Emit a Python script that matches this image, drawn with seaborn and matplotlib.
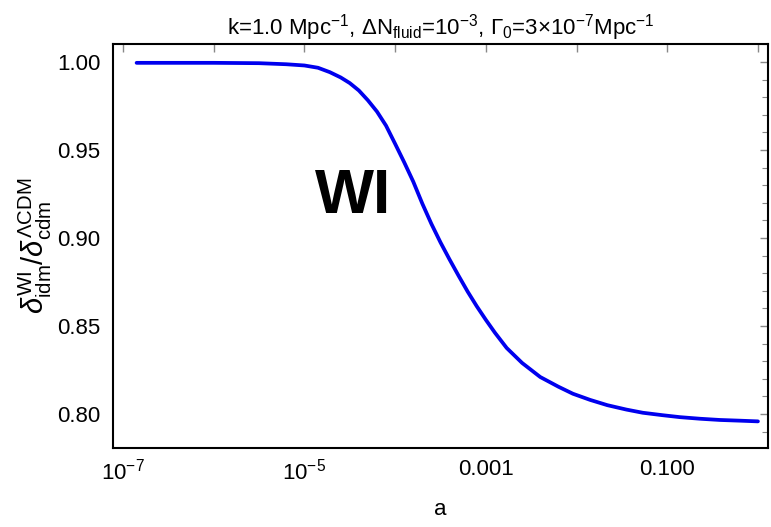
import numpy as np
import pandas as pd
import matplotlib
matplotlib.use("Agg")
import matplotlib.pyplot as plt
import seaborn as sns
from matplotlib.ticker import FixedLocator, NullFormatter

# Data (log10 of scale factor a, and ratio)
log_a = [-6.85, -6.0, -5.5, -5.2, -5.0, -4.85, -4.72, -4.6, -4.5, -4.4,
         -4.3, -4.2, -4.1, -4.0, -3.9, -3.8, -3.7, -3.6, -3.5, -3.4,
         -3.3, -3.2, -3.1, -3.0, -2.9, -2.77, -2.6, -2.4, -2.2, -2.04,
         -1.85, -1.66, -1.45, -1.27, -1.05, -0.86, -0.64, -0.42, -0.2, 0.0]
ratio = [0.9995, 0.9995, 0.9993, 0.9987, 0.9980, 0.9967, 0.9942, 0.9912,
         0.9880, 0.9838, 0.9782, 0.9718, 0.9638, 0.9535, 0.9430, 0.9320,
         0.9195, 0.9080, 0.8975, 0.8878, 0.8785, 0.8695, 0.8612, 0.8535,
         0.8462, 0.8375, 0.8290, 0.8210, 0.8155, 0.8115, 0.8080, 0.8050,
         0.8025, 0.8007, 0.7993, 0.7982, 0.7973, 0.7966, 0.7962, 0.7958]

xtick_vals = [1e-7, 1e-5, 1e-3, 1e-1]
xtick_labels = [r"$10^{-7}$", r"$10^{-5}$", "0.001", "0.100"]
xminor_vals = [1e-6, 1e-4, 1e-2, 1.0]
ytick_vals = [0.80, 0.85, 0.90, 0.95, 1.00]
ytick_labels = ["0.80", "0.85", "0.90", "0.95", "1.00"]

df = pd.DataFrame({"a": 10.0 ** np.array(log_a), "ratio": ratio})

sns.set_theme(style="white")
plt.rcParams["font.family"] = ["Liberation Sans", "DejaVu Sans"]
plt.rcParams["mathtext.fontset"] = "custom"
plt.rcParams["mathtext.rm"] = "Liberation Sans"
plt.rcParams["mathtext.it"] = "Liberation Sans:italic"
plt.rcParams["mathtext.bf"] = "Liberation Sans:bold"
plt.rcParams["text.color"] = "black"
plt.rcParams["axes.labelcolor"] = "black"
plt.rcParams["xtick.labelcolor"] = "black"
plt.rcParams["ytick.labelcolor"] = "black"

fig = plt.figure(figsize=(7.71, 5.27), dpi=100)
ax = fig.add_axes([0.1466, 0.150, 0.996 - 0.1466, 0.9165 - 0.150])

sns.lineplot(data=df, x="a", y="ratio", ax=ax, color="#0000ee", lw=2.7)

ax.set_xscale("log")
ax.set_xlim(10 ** -7.11, 10 ** 0.11)
ax.set_ylim(0.7807, 1.0102)

ax.set_xticks(xtick_vals, xtick_labels)
ax.xaxis.set_minor_locator(FixedLocator(xminor_vals))
ax.xaxis.set_minor_formatter(NullFormatter())
ax.set_yticks(ytick_vals, ytick_labels)
ax.yaxis.set_minor_locator(FixedLocator(np.arange(0.78, 1.011, 0.01)))

ax.tick_params(axis="both", which="both", direction="in", top=True, right=True,
               color="#888888", labelsize=16, labelcolor="black")
ax.tick_params(axis="y", which="both", pad=9)
ax.tick_params(axis="x", which="both", pad=8)
ax.tick_params(axis="both", which="major", length=6, width=1.0)
ax.tick_params(axis="both", which="minor", length=4, width=0.8)
ax.tick_params(axis="x", which="minor", length=6, width=1.0)

for sp in ax.spines.values():
    sp.set_color("black")
    sp.set_linewidth(1.5)

ax.set_xlabel("a", fontsize=16, labelpad=10, color="black")
ax.set_ylabel(r"$\delta^{\rm WI}_{\rm idm}/\delta^{\Lambda\rm CDM}_{\rm cdm}$",
              fontsize=21, labelpad=2, color="black")
ax.set_title(r"k=1.0 Mpc$^{-1}$, $\Delta$N$_{\rm fluid}$=10$^{-3}$, "
             r"$\Gamma_0$=3$\times$10$^{-7}$Mpc$^{-1}$",
             fontsize=16, pad=7, color="black")

ax.text(10 ** -4.46, 0.9236, "WI", fontsize=45, fontweight="bold",
        ha="center", va="center", color="black")

fig.savefig("out.png", dpi=100)
